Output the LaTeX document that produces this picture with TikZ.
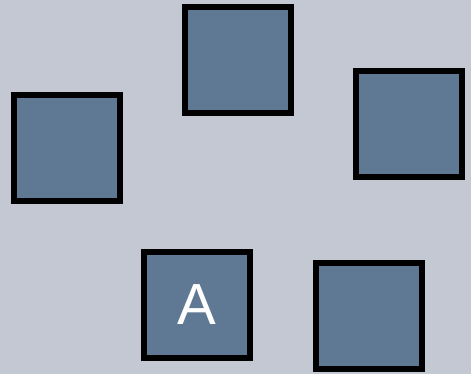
\documentclass[tikz,border=0pt]{standalone}
\usepackage{fontspec}
\setmainfont{Liberation Sans}
\definecolor{bgc}{HTML}{C3C8D2}
\definecolor{boxc}{HTML}{5F7894}
\begin{document}
\begin{tikzpicture}[x=1pt,y=-1pt,
  tile/.style={draw=black,line width=6pt,fill=boxc,minimum size=106pt,inner sep=0pt,
    text=white,font=\fontsize{58}{58}\selectfont}]
\fill[bgc] (0,0) rectangle (471,374);
\useasboundingbox (0,0) rectangle (471,374);
\node[tile] (top) at (238,60.5) {};
\node[tile] (left) at (67,148) {};
\node[tile] (right) at (409,124) {};
\node[tile] (a) at (197,305) {A};
\node[tile] (br) at (369,316) {};
\end{tikzpicture}
\end{document}
